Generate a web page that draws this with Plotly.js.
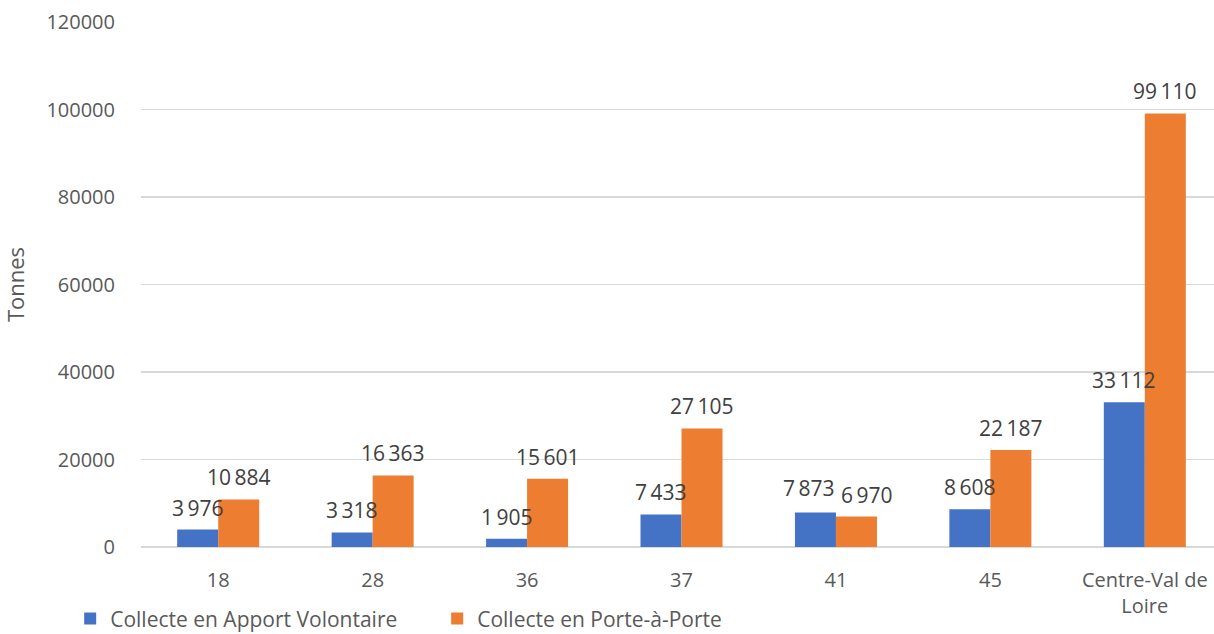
<!DOCTYPE html>
<html>
<head>
<meta charset="utf-8">
<script src="https://cdn.plot.ly/plotly-3.0.1.min.js"></script>
<style>
html,body{margin:0;padding:0;background:#fff;overflow:hidden;}
#wrap{width:1214px;height:634px;overflow:hidden;position:relative;}
</style>
</head>
<body>
<div id="wrap"><div id="chart"></div></div>
<script>
const categories = ["18", "28", "36", "37", "41", "45", "Centre-Val de<br>Loire"];
const apportVolontaire = [3976, 3318, 1905, 7433, 7873, 8608, 33112];
const porteAPorte = [10884, 16363, 15601, 27105, 6970, 22187, 99110];
const seriesNames = ["Collecte en Apport Volontaire", "Collecte en Porte-à-Porte"];
const yTicks = [0, 20000, 40000, 60000, 80000, 100000, 120000];

const FONT = "Open Sans, Noto Sans, sans-serif";
const BLUE = "#4472C4";
const ORANGE = "#ED7D31";

function fmt(v) {
  return String(v).replace(/\B(?=(\d{3})+(?!\d))/g, "\u2009");
}

const traces = [
  {type: "bar", name: seriesNames[0], x: categories, y: apportVolontaire,
   marker: {color: BLUE}, hoverinfo: "none"},
  {type: "bar", name: seriesNames[1], x: categories, y: porteAPorte,
   marker: {color: ORANGE}, hoverinfo: "none"}
];

// label placement (style only): half bar width, plus small nudges where labels collide
const half = 20.5;
const annotations = [];
categories.forEach((c, i) => {
  const close = Math.abs(apportVolontaire[i] - porteAPorte[i]) < 2000;
  annotations.push({x: i, y: apportVolontaire[i], xref: "x", yref: "y", text: fmt(apportVolontaire[i]),
    showarrow: false, xshift: -half - (close ? 6 : 0), yanchor: "bottom", yshift: 6 + (close ? 3 : 0),
    font: {family: FONT, size: 21, color: "#404040"}});
  annotations.push({x: i, y: porteAPorte[i], xref: "x", yref: "y", text: fmt(porteAPorte[i]),
    showarrow: false, xshift: half + (close ? 11 : 0), yanchor: "bottom", yshift: 6,
    font: {family: FONT, size: 21, color: "#404040"}});
});

const H = 660;
const layout = {
  width: 1214, height: H,
  margin: {l: 141, r: 0, t: 22, b: H - 547},
  paper_bgcolor: "#fff", plot_bgcolor: "#fff",
  font: {family: FONT, color: "#595959", size: 20},
  barmode: "group",
  bargap: 0.469,
  bargroupgap: 0,
  showlegend: true,
  legend: {orientation: "h", x: -0.066, xanchor: "left", y: -0.137, yanchor: "middle",
    entrywidth: 322, entrywidthmode: "pixels",
    font: {family: FONT, size: 21, color: "#595959"}, itemclick: false, traceorder: "normal"},
  xaxis: {type: "category", range: [-0.5, 6.448], showgrid: false, zeroline: false, automargin: false,
    showline: false, ticks: "outside", ticklen: 15, tickcolor: "rgba(0,0,0,0)",
    tickfont: {family: FONT, size: 20, color: "#595959"}, fixedrange: true},
  yaxis: {range: [0, 120000], tickvals: yTicks, tickformat: "d", showgrid: true, automargin: false,
    gridcolor: "#D9D9D9", gridwidth: 1.3, zeroline: true, zerolinecolor: "#D9D9D9", zerolinewidth: 1.3,
    showline: false, ticks: "outside", ticklen: 21, tickcolor: "rgba(0,0,0,0)",
    tickfont: {family: FONT, size: 20, color: "#595959"},
    title: {text: "Tonnes", font: {family: FONT, size: 22, color: "#595959"}, standoff: 16},
    fixedrange: true},
  annotations: annotations
};

Plotly.newPlot("chart", traces, layout, {displayModeBar: false, staticPlot: true});
</script>
</body>
</html>
